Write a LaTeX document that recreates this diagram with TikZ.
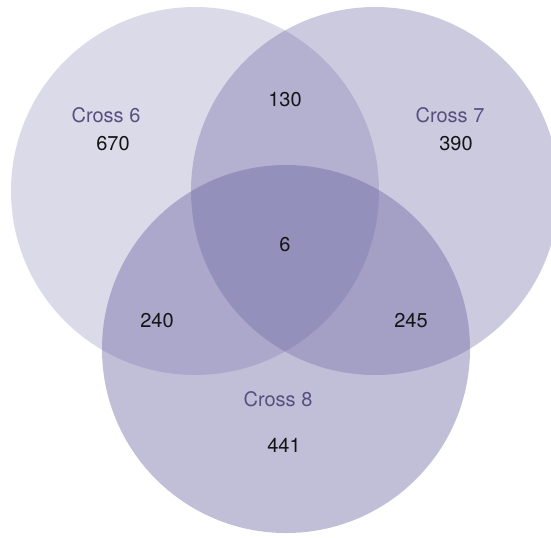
\documentclass[tikz,border=0pt]{standalone}
\usepackage{fontspec}
\setmainfont{TeX Gyre Heros}
\definecolor{vennfill}{RGB}{100,94,158}
\definecolor{setlabel}{RGB}{88,78,128}
\definecolor{countcol}{RGB}{20,20,20}

\begin{document}
\begin{tikzpicture}[x=0.5pt,y=-0.5pt,
	set/.style={fill=vennfill,draw=none},
	setname/.style={text=setlabel,font=\fontsize{10}{12}\selectfont},
	count/.style={text=countcol,font=\fontsize{10}{12}\selectfont}]
	
	\useasboundingbox (0,0) rectangle (551,537);
	\clip (0,0) rectangle (551,537);
	
	\fill[set,fill opacity=0.23] (195,191) circle (184);
	\fill[set,fill opacity=0.33] (375,191) circle (184);
	\fill[set,fill opacity=0.40] (286,349) circle (184);
	
	\node[setname] (cross6) at (106,115) {Cross 6};
	\node[setname] (cross7) at (450,115) {Cross 7};
	\node[setname] (cross8) at (278,399) {Cross 8};
	
	\node[count] (only6)  at (113,144) {670};
	\node[count] (only7)  at (456,144) {390};
	\node[count] (only8)  at (284,445) {441};
	\node[count] (six7)   at (285,100) {130};
	\node[count] (six8)   at (157,321) {240};
	\node[count] (seven8) at (411,321) {245};
	\node[count] (all)    at (285,245) {6};
	
\end{tikzpicture}
\end{document}
